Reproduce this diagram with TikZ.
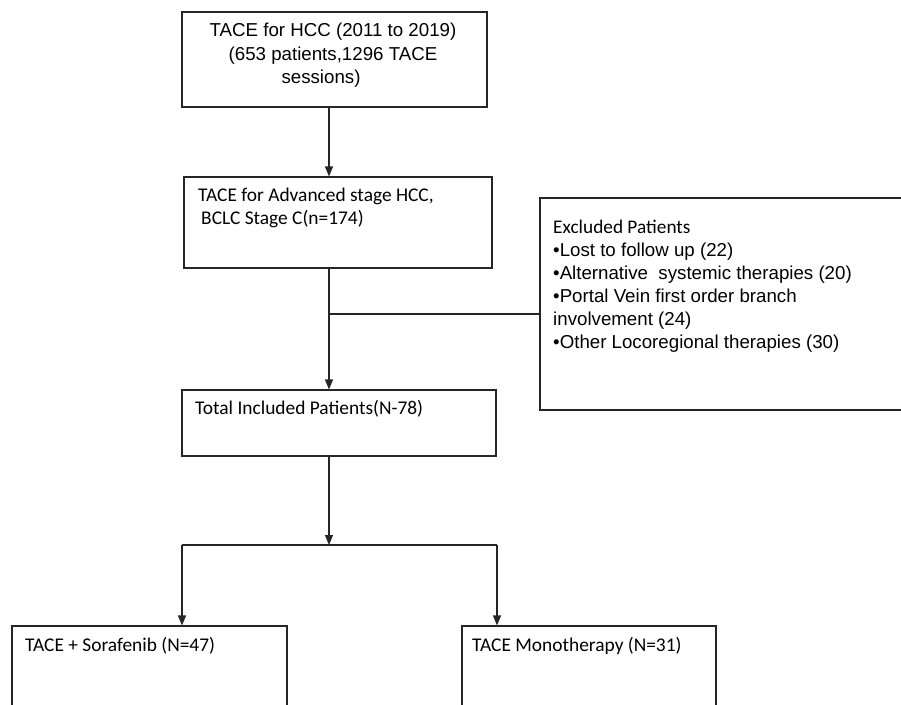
\documentclass[tikz,border=0pt]{standalone}
\usepackage{fontspec}
\setmainfont{Liberation Sans}
\newfontfamily\calib{Carlito}
\usetikzlibrary{arrows.meta,calc,positioning}
\tikzset{
  box/.style={draw=black!85, line width=1.1pt, inner sep=0pt},
  txtA/.style={inner sep=0pt, font=\fontsize{18.7}{23.5}\selectfont},
  txtC/.style={inner sep=0pt, font=\calib\fontsize{19.4}{22.5}\selectfont},
  link/.style={draw=black!85, line width=1.1pt},
  arr/.style={link, -{Triangle[length=10pt,width=8pt]}}
}
\begin{document}
\begin{tikzpicture}[x=1pt,y=-1pt]
          \useasboundingbox (0,0) rectangle (901,704);
          % Draw the boxes
          \node[box, minimum width=305, minimum height=95] (all) at (334.5,59.5) {};
          \node[box, minimum width=308, minimum height=91] (adv) at (338,222.5) {};
          \node[box, minimum width=375, minimum height=212] (excl) at (727.5,304) {};
          \node[box, minimum width=314, minimum height=66] (incl) at (339,423) {};
          \node[box, minimum width=275, minimum height=104] (sora) at (149.5,678) {};
          \node[box, minimum width=254, minimum height=104] (mono) at (589,678) {};
          % texts
          \node[txtA, align=center, anchor=north] (allT) at (333,23)
               {TACE for HCC (2011 to 2019)\\(653 patients,1296 TACE\\sessions)\hspace*{24pt}};
          \node[txtC, align=left, anchor=north west] (advT) at (198,188)
               {TACE for Advanced stage HCC,\\\hspace*{3pt}BCLC Stage C(n=174)};
          \node[inner sep=0pt, font=\fontsize{18.7}{23}\selectfont, align=left, anchor=north west] (exclT) at (553,220)
               {{\calib\fontsize{19.3}{23}\selectfont Excluded Patients}\\
                •Lost to follow up (22)\\
                •Alternative\ \ systemic therapies (20)\\
                •Portal Vein first order branch\\
                involvement (24)\\
                •Other Locoregional therapies (30)};
          \node[txtC, anchor=base west] (inclT) at (195,414) {Total Included Patients(N-78)};
          \node[txtC, anchor=base west] (soraT) at (25,651) {TACE + Sorafenib (N=47)};
          \node[txtC, anchor=base west] (monoT) at (472,651) {TACE Monotherapy (N=31)};
          % connectors
          \coordinate (trunk) at (329,0);
          \coordinate (excljoin) at (329,314);
          \coordinate (split) at (329,545);
          \coordinate (lbr) at (182,545);
          \coordinate (rbr) at (497,545);
          \draw[arr] (all.south -| trunk) -- (adv.north -| trunk);
          \draw[arr] (adv.south -| trunk) -- (incl.north -| trunk);
          \draw[link] (excljoin) -- (excljoin -| excl.west);
          \draw[arr] (incl.south -| trunk) -- (split);
          \draw[link] (lbr) -- (rbr);
          \draw[arr] (lbr) -- (lbr |- sora.north);
          \draw[arr] (rbr) -- (rbr |- mono.north);
        \end{tikzpicture}
\end{document}
